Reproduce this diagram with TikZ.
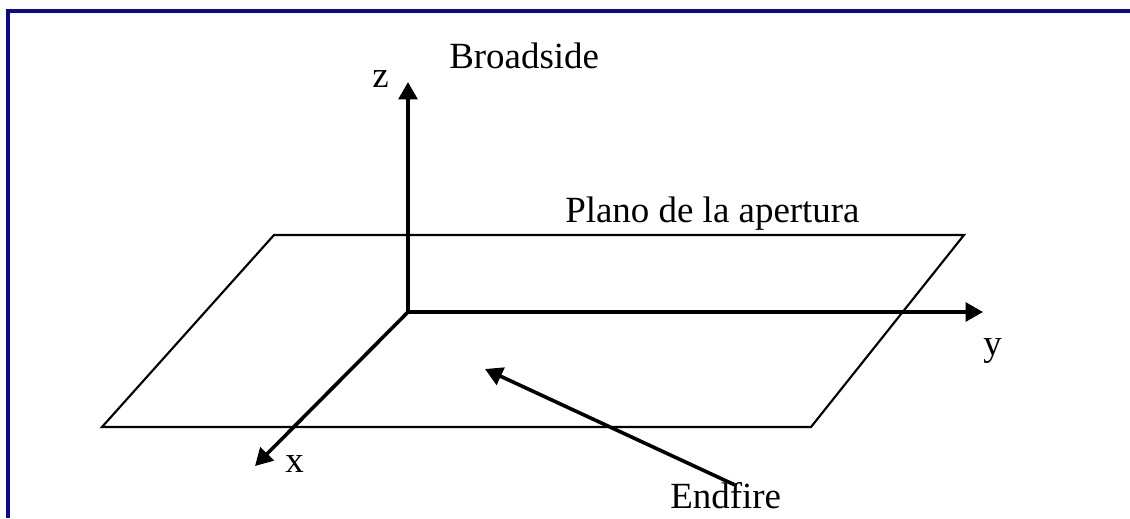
\documentclass[tikz,border=0pt]{standalone}
\usepackage{fontspec}
\setmainfont{Liberation Serif}
\usetikzlibrary{arrows.meta}
\definecolor{framenavy}{RGB}{10,10,140}
\tikzset{
  axisline/.style={line width=2.7pt,-{Triangle[length=13pt,width=14pt]}},
  planeline/.style={line width=1.6pt,line join=miter},
  lbl/.style={inner sep=0pt,anchor=base west,font=\fontsize{27.7pt}{30pt}\selectfont},
  framestyle/.style={draw=framenavy,line width=2.4pt}
}
\begin{document}
\begin{tikzpicture}[x=0.75pt,y=-0.75pt]
\useasboundingbox (0,0) rectangle (1130,518);
% frame
\draw[framestyle] (8,518) -- (8,11) -- (1130,11);
% plane
\coordinate (p1) at (274,235);
\coordinate (p2) at (964,235);
\coordinate (p3) at (811,427);
\coordinate (p4) at (102,427);
\draw[planeline] (p1) -- (p2) -- (p3) -- (p4) -- cycle;
% axes
\coordinate (O) at (408,312);
\coordinate (ztip) at (408,82);
\coordinate (ytip) at (983,312);
\coordinate (xtip) at (255,466);
\draw[axisline] (O) -- (ztip);
\draw[axisline] (O) -- (ytip);
\draw[axisline] (O) -- (xtip);
% endfire arrow
\coordinate (efstart) at (735,485);
\coordinate (eftip) at (485,369);
\draw[axisline] (efstart) -- (eftip);
% labels
\node[lbl] (zl) at (372,87) {z};
\node[lbl] (bs) at (449,68) {Broadside};
\node[lbl] (pl) at (565,222) {Plano de la apertura};
\node[lbl] (yl) at (983,355) {y};
\node[lbl] (xl) at (285,472) {x};
\node[lbl] (ef) at (670,508) {Endfire};
\end{tikzpicture}
\end{document}
